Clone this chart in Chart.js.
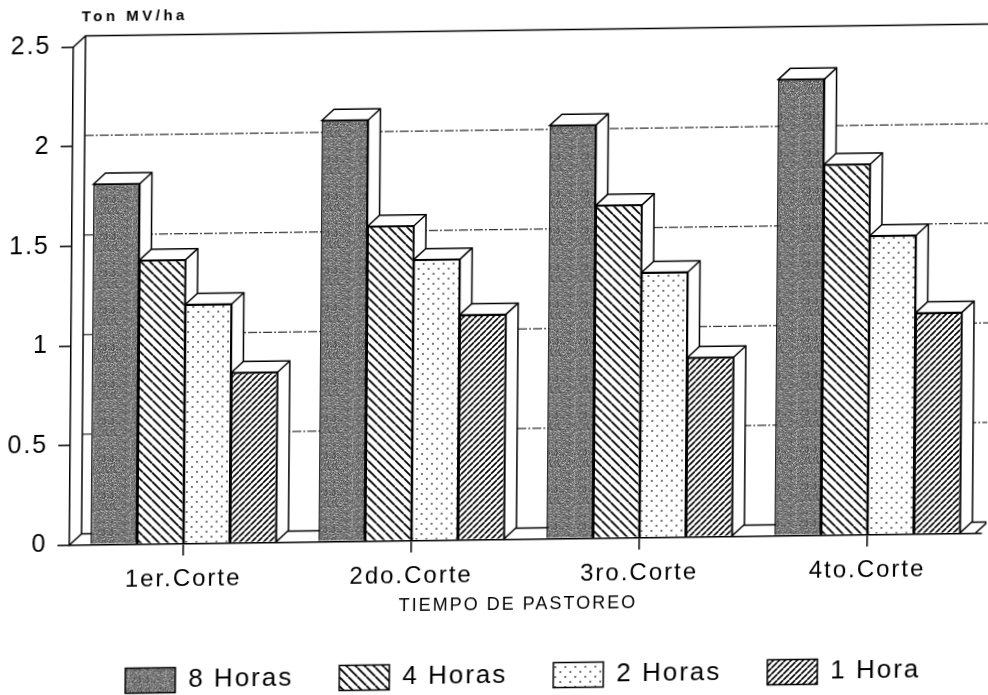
<!DOCTYPE html>
<html>
<head>
<meta charset="utf-8">
<title>Ton MV/ha</title>
<script src="https://cdn.jsdelivr.net/npm/chart.js@4"></script>
<style>
html, body { margin: 0; padding: 0; background: #fff; width: 988px; height: 695px; overflow: hidden; }
/* the source is a slightly skewed scan */
#BarChart { display: block; transform-origin: 494px 347px; transform: matrix(1, -0.0131, -0.008, 1, 0, 0); }
</style>
</head>
<body>
<canvas id="BarChart" width="988" height="699"></canvas>
<script>
const categories = ['1er.Corte', '2do.Corte', '3ro.Corte', '4to.Corte'];
const seriesNames = ['8 Horas', '4 Horas', '2 Horas', '1 Hora'];
const horas8 = [1.81, 2.115, 2.075, 2.29];
const horas4 = [1.425, 1.58, 1.67, 1.86];
const horas2 = [1.2, 1.41, 1.33, 1.5];
const hora1 = [0.855, 1.13, 0.90, 1.11];
const yTicks = [0, 0.5, 1, 1.5, 2, 2.5];
const yTitle = 'Ton MV/ha';
const xTitle = 'TIEMPO DE PASTOREO';

const depthX = 12, depthY = -11;
const fontName = '"Liberation Sans", Arial, sans-serif';

function tile(w, h, draw) {
    let c = document.createElement('canvas');
    c.width = w; c.height = h;
    let g = c.getContext('2d');
    g.fillStyle = '#fff';
    g.fillRect(0, 0, w, h);
    draw(g);
    return document.createElement('canvas').getContext('2d').createPattern(c, 'repeat');
}

function diagonal(period, width, back) {
    return tile(period, period, g => {
        g.strokeStyle = '#000';
        g.lineWidth = width;
        g.beginPath();
        for (let k = -1; k <= 1; k++) {
            let o = k * period;
            if (back) { g.moveTo(o, 0); g.lineTo(o + period, period); }
            else { g.moveTo(o, period); g.lineTo(o + period, 0); }
        }
        g.stroke();
    });
}

// grey speckle, fixed by a small modular sum so each run looks the same
const speckle = tile(37, 37, g => {
    g.fillStyle = '#777';
    g.fillRect(0, 0, 37, 37);
    for (let i = 0; i < 37; i++) {
        for (let j = 0; j < 37; j++) {
            let n = (i * i * i * 3 + j * j * 11 + i * j * 17 + i * 5) % 29;
            if (n < 5) { g.fillStyle = '#adadad'; g.fillRect(i, j, 1, 1); }
            else if (n > 23) { g.fillStyle = '#505050'; g.fillRect(i, j, 1, 1); }
        }
    }
});

const dots = tile(10, 10, g => {
    g.fillStyle = '#777';
    g.fillRect(2, 2, 2, 2);
    g.fillRect(7, 7, 2, 2);
});

const fills = [speckle, diagonal(9, 1.8, true), dots, diagonal(6, 1.6, false)];
const values = [horas8, horas4, horas2, hora1];

// back wall, floor, grid and the sides of the bars, all behind the bar fronts
const depthPlugin = {
    id: 'depth',
    beforeLayout(chart) { chart.ctx.letterSpacing = '2px'; },
    afterLayout(chart) {
        // legend sits right of centre in the source
        chart.legend.left += 34;
        chart.legend.right += 34;
    },
    beforeDraw(chart) { chart.ctx.letterSpacing = '2px'; },
    beforeDatasetsDraw(chart) {
        let ctx = chart.ctx, y = chart.scales.y, a = chart.chartArea;
        let floorEnd = a.right - 6;
        ctx.save();
        ctx.strokeStyle = '#000';
        ctx.lineWidth = 1.5;

        ctx.beginPath();
        ctx.moveTo(a.left, a.top);
        ctx.lineTo(a.left + depthX, a.top + depthY);
        ctx.lineTo(a.right + 20, a.top + depthY);
        ctx.moveTo(a.left + depthX, a.top + depthY);
        ctx.lineTo(a.left + depthX, a.bottom + depthY);
        ctx.lineTo(a.left, a.bottom);
        ctx.moveTo(a.left + depthX, a.bottom + depthY);
        ctx.lineTo(floorEnd + depthX, a.bottom + depthY);
        ctx.lineTo(floorEnd, a.bottom);
        ctx.stroke();

        ctx.lineWidth = 1;
        ctx.setLineDash([9, 2, 2, 2]);
        yTicks.slice(1, -1).forEach(v => {
            let py = y.getPixelForValue(v) + depthY;
            ctx.beginPath();
            ctx.moveTo(a.left + depthX, py);
            ctx.lineTo(a.right + 20, py);
            ctx.stroke();
        });
        ctx.setLineDash([]);

        ctx.lineWidth = 1.5;
        ctx.fillStyle = '#fff';
        chart.data.datasets.forEach((ds, i) => {
            chart.getDatasetMeta(i).data.forEach(bar => {
                let l = bar.x - bar.width / 2, r = bar.x + bar.width / 2;
                ctx.beginPath();
                ctx.moveTo(l, bar.y);
                ctx.lineTo(l + depthX, bar.y + depthY);
                ctx.lineTo(r + depthX, bar.y + depthY);
                ctx.lineTo(r + depthX, bar.base + depthY);
                ctx.lineTo(r, bar.base);
                ctx.lineTo(r, bar.y);
                ctx.closePath();
                ctx.fill();
                ctx.stroke();
                ctx.beginPath();
                ctx.moveTo(r, bar.y);
                ctx.lineTo(r + depthX, bar.y + depthY);
                ctx.stroke();
            });
        });
        ctx.restore();
    },
    afterDraw(chart) {
        let ctx = chart.ctx;
        ctx.save();
        ctx.fillStyle = '#000';
        ctx.textBaseline = 'middle';
        ctx.letterSpacing = '3.5px';
        ctx.font = 'bold 15px ' + fontName;
        ctx.fillText(yTitle, 79, 12);
        ctx.letterSpacing = '2px';
        ctx.font = '18px ' + fontName;
        ctx.textAlign = 'center';
        ctx.fillText(xTitle, 520, 605);
        ctx.restore();
    }
};

let myChart = document.getElementById('BarChart').getContext('2d');

let massPopChart = new Chart(myChart, {
    type: 'bar',
    plugins: [depthPlugin],
    data: {
        labels: categories,
        datasets: seriesNames.map((name, i) => ({
            label: name,
            data: values[i],
            backgroundColor: fills[i],
            borderColor: '#000',
            borderWidth: 1.5
        }))
    },
    options: {
        responsive: false,
        animation: false,
        layout: { padding: { top: 41.5, right: 5, left: 0, bottom: 0 } },
        datasets: { bar: { categoryPercentage: 0.815, barPercentage: 1 } },
        scales: {
            x: {
                afterFit(s) { s.height = 77.5; },
                grid: { offset: false, drawOnChartArea: false, tickLength: 12, color: '#000', lineWidth: 1.5 },
                border: { color: '#000', width: 1.5 },
                ticks: { color: '#000', font: { family: fontName, size: 24 }, padding: 9, maxRotation: 0 }
            },
            y: {
                min: 0,
                max: 2.5,
                afterFit(s) { s.width = 71; },
                afterBuildTicks(s) { s.ticks = yTicks.map(v => ({ value: v })); },
                grid: { drawOnChartArea: false, tickLength: 12, color: '#000', lineWidth: 1.5 },
                border: { color: '#000', width: 1.5 },
                ticks: { color: '#000', font: { family: fontName, size: 25 }, padding: 10, callback: v => String(v) }
            }
        },
        plugins: {
            tooltip: { enabled: false },
            legend: {
                position: 'bottom',
                labels: {
                    boxWidth: 50,
                    boxHeight: 25,
                    padding: 46,
                    color: '#000',
                    font: { family: fontName, size: 26 }
                }
            }
        }
    }
});
</script>
</body>
</html>
